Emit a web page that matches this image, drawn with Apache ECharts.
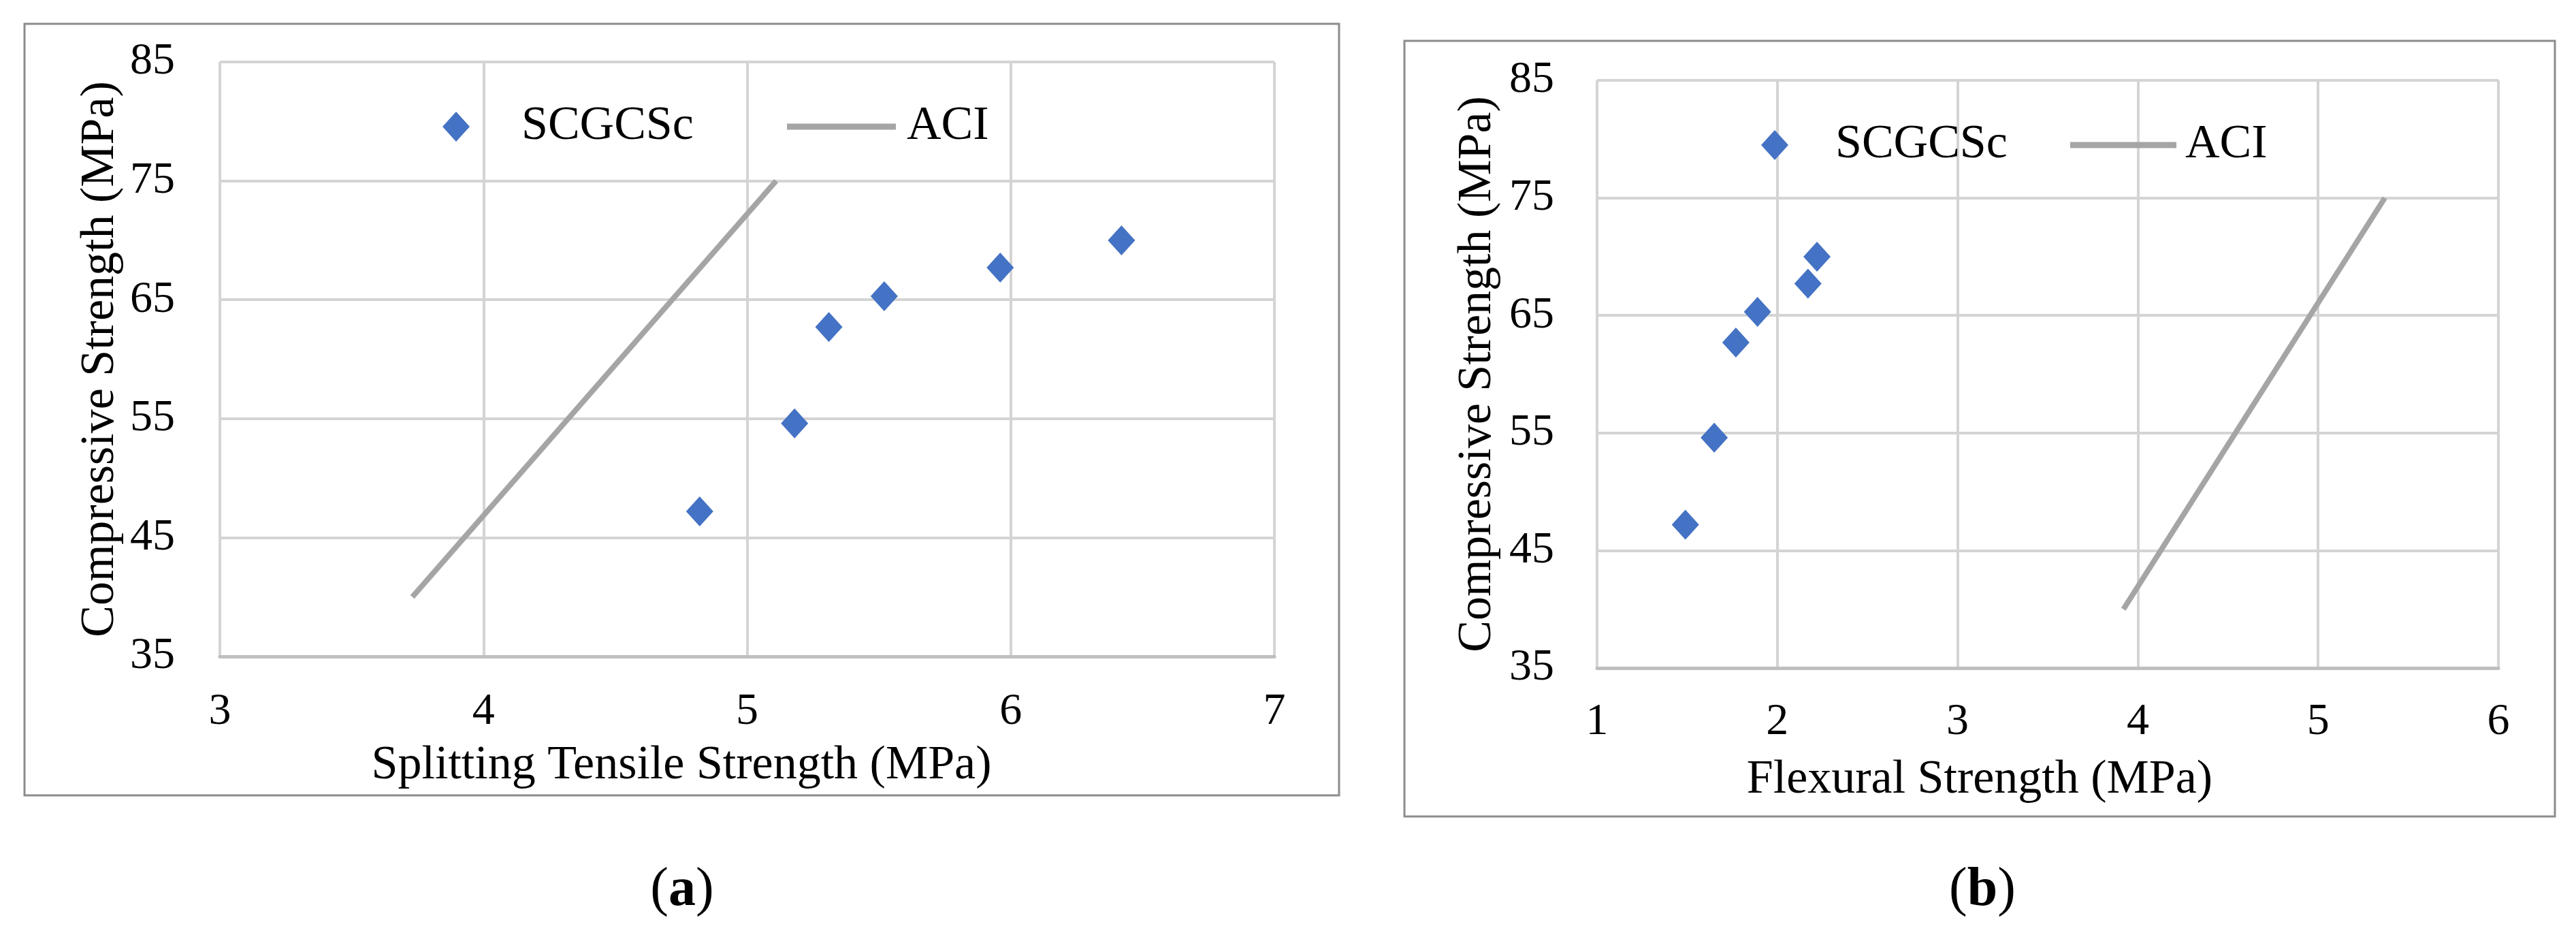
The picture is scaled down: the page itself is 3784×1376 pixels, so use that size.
<!DOCTYPE html>
<html>
<head>
<meta charset="utf-8">
<title>Compressive vs tensile / flexural strength</title>
<script src="https://cdn.jsdelivr.net/npm/echarts@6/dist/echarts.min.js"></script>
<style>
    html, body { margin: 0; padding: 0; background: #fff; }
    #chart { width: 3784px; height: 1376px; }
</style>
</head>
<body>
<div id="chart"></div>
<script>
var compressive = [47.2, 54.6, 62.7, 65.3, 67.7, 70.0];
var splittingTensile = [4.82, 5.18, 5.31, 5.52, 5.96, 6.42];
var flexural = [1.49, 1.65, 1.77, 1.89, 2.17, 2.22];

// ACI reference lines (two end points each)
var aciCompressive = [40, 75];
var aciTensile = [3.73, 5.11];
var aciFlexural = [3.92, 5.37];

var yTicks = [35, 45, 55, 65, 75, 85];
var xTicksA = [3, 4, 5, 6, 7];
var xTicksB = [1, 2, 3, 4, 5, 6];

var FONT = '"Liberation Serif", "Times New Roman", serif';
var BLUE = '#4472C4';
var GREY = '#A5A5A5';

function pairs(xs, ys) {
    return xs.map(function (x, i) { return [x, ys[i]]; });
}

function xAxis(gridIndex, ticks, margin) {
    return {
        type: 'value',
        gridIndex: gridIndex,
        min: ticks[0],
        max: ticks[ticks.length - 1],
        interval: ticks[1] - ticks[0],
        axisLine: { show: true, lineStyle: { color: '#BFBFBF', width: 5 } },
        axisTick: { show: false },
        axisLabel: { margin: margin, fontFamily: FONT, fontSize: 66, color: '#000' },
        splitLine: { show: true, lineStyle: { color: '#D4D4D4', width: 4 } },
        z: 1
    };
}

function yAxis(gridIndex, margin, nameGap) {
    return {
        type: 'value',
        gridIndex: gridIndex,
        min: yTicks[0],
        max: yTicks[yTicks.length - 1],
        interval: yTicks[1] - yTicks[0],
        name: 'Compressive Strength (MPa)',
        nameLocation: 'middle',
        nameGap: nameGap,
        nameTextStyle: { fontFamily: FONT, fontSize: 70, color: '#000' },
        axisLine: { show: false },
        axisTick: { show: false },
        axisLabel: { margin: margin, fontFamily: FONT, fontSize: 66, color: '#000' },
        splitLine: { show: true, lineStyle: { color: '#D4D4D4', width: 4 } }
    };
}

function legend(name, left, top, itemWidth, itemHeight, gap, icon) {
    return {
        data: [name],
        left: left,
        top: top,
        padding: 0,
        icon: icon,
        itemWidth: itemWidth,
        itemHeight: itemHeight,
        selectedMode: false,
        textStyle: { fontFamily: FONT, fontSize: 70, color: '#000', padding: [0, 0, 0, gap] }
    };
}

var chart = echarts.init(document.getElementById('chart'));

var option = {
    backgroundColor: '#fff',
    animation: false,
    graphic: [
        { type: 'rect', shape: { x: 36, y: 35, width: 1931, height: 1133 },
          style: { fill: 'none', stroke: '#8C8C8C', lineWidth: 3 } },
        { type: 'rect', shape: { x: 2063, y: 60, width: 1690, height: 1139 },
          style: { fill: 'none', stroke: '#8C8C8C', lineWidth: 3 } }
    ],
    title: [
        { text: 'Splitting Tensile Strength (MPa)', left: 1001, top: 1090, textAlign: 'center', padding: 0,
          textStyle: { fontFamily: FONT, fontSize: 70, fontWeight: 'normal', color: '#000' } },
        { text: 'Flexural Strength (MPa)', left: 2908, top: 1111, textAlign: 'center', padding: 0,
          textStyle: { fontFamily: FONT, fontSize: 70, fontWeight: 'normal', color: '#000' } },
        { text: '({b|a})', left: 1002, top: 1268, textAlign: 'center', padding: 0,
          textStyle: { fontFamily: FONT, fontSize: 80, fontWeight: 'normal', color: '#000',
                       rich: { b: { fontFamily: FONT, fontSize: 80, fontWeight: 'bold', color: '#000' } } } },
        { text: '({b|b})', left: 2912, top: 1268, textAlign: 'center', padding: 0,
          textStyle: { fontFamily: FONT, fontSize: 80, fontWeight: 'normal', color: '#000',
                       rich: { b: { fontFamily: FONT, fontSize: 80, fontWeight: 'bold', color: '#000' } } } }
    ],
    legend: [
        legend('SCGCSc', 650, 151, 40, 44, 71, 'diamond'),
        legend('ACI', 1156, 151, 160, 9, 11, 'rect'),
        legend('SCGCSc', 2587, 178, 40, 44, 64, 'diamond'),
        legend('ACI', 3041, 178, 156, 9, 8, 'rect')
    ],
    grid: [
        { left: 323, top: 91, width: 1549, height: 873 },
        { left: 2346, top: 118, width: 1324, height: 863 }
    ],
    xAxis: [xAxis(0, xTicksA, 49), xAxis(1, xTicksB, 47)],
    yAxis: [yAxis(0, 66, 140), yAxis(1, 63, 140)],
    series: [
        {
            name: 'ACI', type: 'line', xAxisIndex: 0, yAxisIndex: 0,
            data: pairs(aciTensile, aciCompressive),
            symbol: 'none',
            lineStyle: { color: GREY, width: 8 },
            itemStyle: { color: GREY },
            z: 2
        },
        {
            name: 'SCGCSc', type: 'scatter', xAxisIndex: 0, yAxisIndex: 0,
            data: pairs(splittingTensile, compressive),
            symbol: 'diamond', symbolSize: [40, 44],
            itemStyle: { color: BLUE, opacity: 1 },
            z: 3
        },
        {
            name: 'ACI', type: 'line', xAxisIndex: 1, yAxisIndex: 1,
            data: pairs(aciFlexural, aciCompressive),
            symbol: 'none',
            lineStyle: { color: GREY, width: 8 },
            itemStyle: { color: GREY },
            z: 2
        },
        {
            name: 'SCGCSc', type: 'scatter', xAxisIndex: 1, yAxisIndex: 1,
            data: pairs(flexural, compressive),
            symbol: 'diamond', symbolSize: [40, 44],
            itemStyle: { color: BLUE, opacity: 1 },
            z: 3
        }
    ]
};

chart.setOption(option);
</script>
</body>
</html>
